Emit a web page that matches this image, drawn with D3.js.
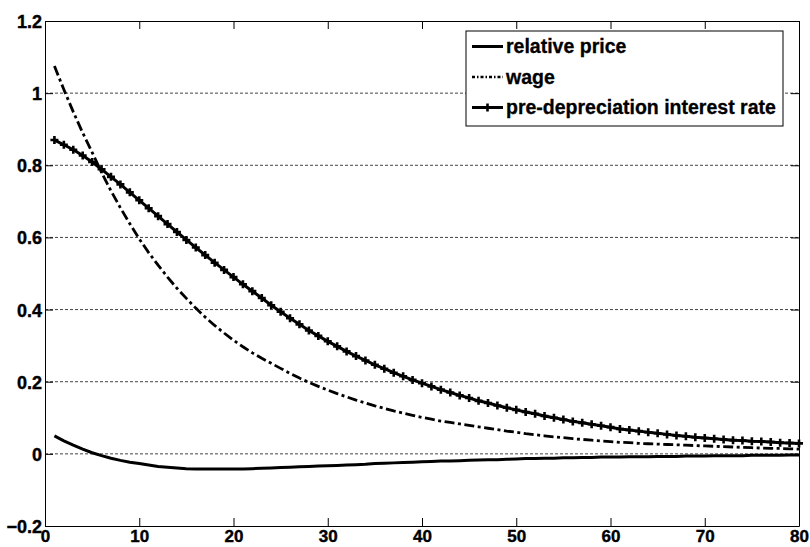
<!DOCTYPE html>
<html>
<head>
<meta charset="utf-8">
<script src="https://cdn.jsdelivr.net/npm/d3@7"></script>
<style>
  body { margin: 0; background: #fff; }
  svg { display: block; font-family: "Liberation Sans", Arial, sans-serif; font-weight: bold; }
</style>
</head>
<body>
<div id="chart"></div>
<script>
// periods 1..80
const periods = d3.range(1, 81)

const relativePrice = [
  0.050, 0.036, 0.024, 0.013, 0.003, -0.005, -0.012, -0.018, -0.023, -0.027,
  -0.031, -0.035, -0.037, -0.039, -0.041, -0.042, -0.042, -0.042, -0.042, -0.042,
  -0.042, -0.041, -0.040, -0.039, -0.038, -0.037, -0.036, -0.035, -0.034, -0.033,
  -0.032, -0.031, -0.030, -0.029, -0.027, -0.026, -0.025, -0.024, -0.023, -0.022,
  -0.021, -0.020, -0.020, -0.019, -0.018, -0.017, -0.016, -0.016, -0.015, -0.014,
  -0.013, -0.013, -0.012, -0.012, -0.011, -0.011, -0.010, -0.010, -0.009, -0.009,
  -0.009, -0.008, -0.008, -0.008, -0.007, -0.007, -0.007, -0.006, -0.006, -0.006,
  -0.005, -0.005, -0.005, -0.005, -0.004, -0.004, -0.004, -0.004, -0.003, -0.003
]

const wage = [
  1.075, 1.010, 0.948, 0.890, 0.836, 0.780, 0.729, 0.682, 0.638, 0.596,
  0.558, 0.523, 0.490, 0.459, 0.431, 0.404, 0.379, 0.356, 0.335, 0.315,
  0.297, 0.280, 0.265, 0.251, 0.237, 0.223, 0.210, 0.198, 0.187, 0.177,
  0.167, 0.158, 0.149, 0.141, 0.133, 0.126, 0.119, 0.113, 0.107, 0.101,
  0.096, 0.091, 0.087, 0.083, 0.079, 0.075, 0.071, 0.067, 0.063, 0.060,
  0.056, 0.053, 0.050, 0.047, 0.045, 0.042, 0.040, 0.038, 0.036, 0.034,
  0.032, 0.031, 0.029, 0.028, 0.027, 0.026, 0.025, 0.024, 0.023, 0.022,
  0.021, 0.020, 0.019, 0.018, 0.017, 0.016, 0.015, 0.015, 0.014, 0.013
]

const interestRate = [
  0.870, 0.857, 0.843, 0.827, 0.809, 0.789, 0.768, 0.747, 0.725, 0.703,
  0.681, 0.659, 0.637, 0.615, 0.593, 0.572, 0.551, 0.530, 0.510, 0.490,
  0.470, 0.451, 0.432, 0.412, 0.394, 0.376, 0.359, 0.342, 0.327, 0.312,
  0.298, 0.284, 0.271, 0.259, 0.247, 0.236, 0.225, 0.215, 0.205, 0.196,
  0.187, 0.178, 0.170, 0.162, 0.155, 0.147, 0.141, 0.134, 0.128, 0.122,
  0.116, 0.111, 0.105, 0.100, 0.095, 0.090, 0.086, 0.082, 0.078, 0.074,
  0.069, 0.066, 0.063, 0.060, 0.057, 0.054, 0.051, 0.049, 0.046, 0.044,
  0.042, 0.040, 0.038, 0.037, 0.035, 0.034, 0.033, 0.031, 0.030, 0.029
]

const xTicks = [0, 10, 20, 30, 40, 50, 60, 70, 80]
const yTicks = [-0.2, 0, 0.2, 0.4, 0.6, 0.8, 1, 1.2]
const legendLabels = ['relative price', 'wage', 'pre-depreciation interest rate']

const width = 810, height = 547
const margin = { top: 21, right: 11, bottom: 21, left: 45 }

const svg = d3.select('#chart').append('svg').attr('width', width).attr('height', height)

const x = d3.scaleLinear().domain([0, 80]).range([margin.left, width - margin.right])
const y = d3.scaleLinear().domain([-0.2, 1.2]).range([height - margin.bottom, margin.top])

// horizontal dashed grid
svg.append('g').selectAll('line')
  .data(yTicks.slice(1, -1))
  .enter().append('line')
  .attr('x1', x(0)).attr('x2', x(80))
  .attr('y1', d => y(d)).attr('y2', d => y(d))
  .attr('stroke', '#444').attr('stroke-width', 1).attr('stroke-dasharray', '3,2')

// axes with inward ticks
const fmt = d => d3.format('~g')(d)
const xAxis = svg.append('g')
  .attr('transform', `translate(0,${y(-0.2)})`)
  .call(d3.axisBottom(x).tickValues(xTicks).tickSizeInner(-8).tickSizeOuter(0).tickPadding(4).tickFormat(fmt))
const xTop = svg.append('g')
  .attr('transform', `translate(0,${y(1.2)})`)
  .call(d3.axisTop(x).tickValues(xTicks).tickSizeInner(-8).tickSizeOuter(0).tickFormat(''))
const yAxis = svg.append('g')
  .attr('transform', `translate(${x(0)},0)`)
  .call(d3.axisLeft(y).tickValues(yTicks).tickSizeInner(-8).tickSizeOuter(0).tickPadding(3).tickFormat(fmt))
const yRight = svg.append('g')
  .attr('transform', `translate(${x(80)},0)`)
  .call(d3.axisRight(y).tickValues(yTicks).tickSizeInner(-8).tickSizeOuter(0).tickFormat(''))

;[xAxis, xTop, yAxis, yRight].forEach(g => {
  g.selectAll('path').attr('stroke', '#000').attr('stroke-width', 1)
  g.selectAll('line').attr('stroke', '#000')
  g.selectAll('text').attr('fill', '#000')
    .attr('stroke', '#000').attr('stroke-width', 0.4)
    .style('font-size', '18px').style('font-weight', 'bold')
})
xAxis.selectAll('text').attr('dy', '0.71em').style('font-size', '17px')
yAxis.selectAll('text').attr('dy', '0.36em')

const line = vals => d3.line().x((d, i) => x(periods[i])).y(d => y(d))(vals)

svg.append('path').attr('d', line(relativePrice))
  .attr('fill', 'none').attr('stroke', '#000').attr('stroke-width', 3)

svg.append('path').attr('d', line(wage))
  .attr('fill', 'none').attr('stroke', '#000').attr('stroke-width', 2.8)
  .attr('stroke-dasharray', '10,3.5,3,3.5')

svg.append('path').attr('d', line(interestRate))
  .attr('fill', 'none').attr('stroke', '#000').attr('stroke-width', 3)

const plus = 'M-4,0H4M0,-4V4'
svg.append('g').selectAll('path')
  .data(interestRate)
  .enter().append('path')
  .attr('d', plus)
  .attr('transform', (d, i) => `translate(${x(periods[i])},${y(d)})`)
  .attr('stroke', '#000').attr('stroke-width', 2.6)

// legend
const lg = svg.append('g').attr('transform', 'translate(466,31)')
lg.append('rect').attr('width', 317).attr('height', 95)
  .attr('fill', '#fff').attr('stroke', '#000').attr('stroke-width', 1)
const styles = [
  { w: 3, dash: null, marker: false },
  { w: 2.4, dash: '3,2,1.5,2', marker: false },
  { w: 3, dash: null, marker: true }
]
legendLabels.forEach((lab, i) => {
  const cy = 15.5 + i * 30.5
  lg.append('line').attr('x1', 6).attr('x2', 37).attr('y1', cy).attr('y2', cy)
    .attr('stroke', '#000').attr('stroke-width', styles[i].w)
    .attr('stroke-dasharray', styles[i].dash)
  if (styles[i].marker) {
    lg.append('path').attr('d', plus).attr('transform', `translate(21.5,${cy})`)
      .attr('stroke', '#000').attr('stroke-width', 2.6)
  }
  lg.append('text').attr('x', 40).attr('y', cy).attr('dy', '0.35em')
    .attr('stroke', '#000').attr('stroke-width', 0.3)
    .style('font-size', '19.5px').style('font-weight', 'bold').text(lab)
})
</script>
</body>
</html>
